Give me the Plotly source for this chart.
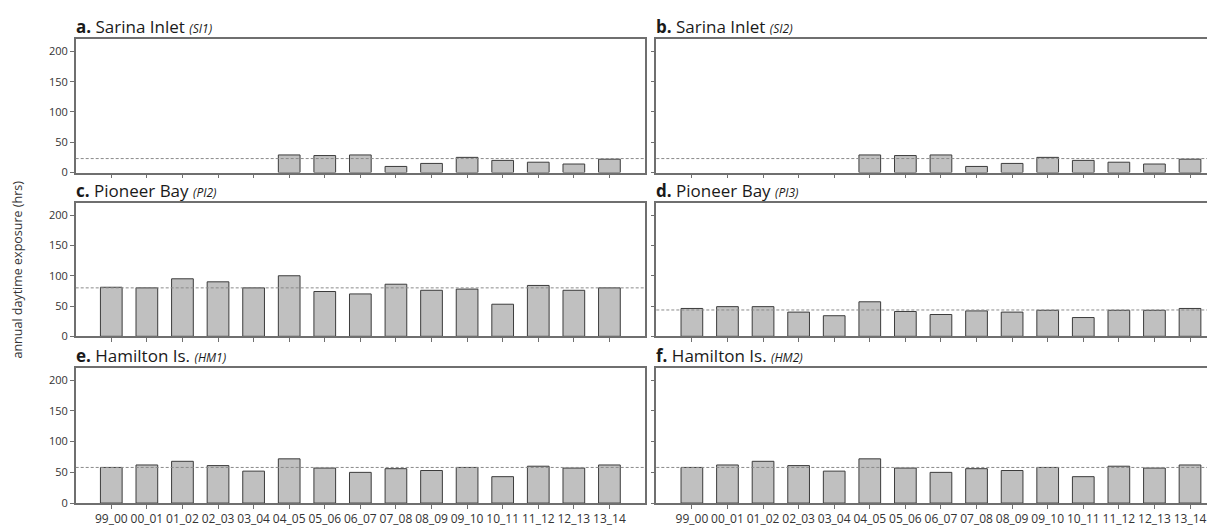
import plotly.graph_objects as go

years = ["99_00", "00_01", "01_02", "02_03", "03_04", "04_05", "05_06", "06_07",
         "07_08", "08_09", "09_10", "10_11", "11_12", "12_13", "13_14"]

si1 = [None, None, None, None, None, 29, 28, 29, 10, 15, 25, 20, 17, 14, 22]
si2 = [None, None, None, None, None, 29, 28, 29, 10, 15, 25, 20, 17, 14, 22]
pi2 = [81, 80, 95, 90, 80, 100, 74, 70, 86, 76, 78, 53, 84, 76, 80]
pi3 = [46, 49, 49, 40, 34, 57, 41, 36, 42, 40, 43, 31, 43, 43, 46]
hm1 = [58, 62, 68, 61, 52, 72, 57, 50, 56, 53, 58, 43, 60, 57, 62]
hm2 = [58, 62, 68, 61, 52, 72, 57, 50, 56, 53, 58, 43, 60, 57, 62]

ref_levels = [23, 23, 80, 43.5, 58, 58]

letters = ["a.", "b.", "c.", "d.", "e.", "f."]
sites = ["Sarina Inlet", "Sarina Inlet", "Pioneer Bay", "Pioneer Bay", "Hamilton Is.", "Hamilton Is."]
codes = ["SI1", "SI2", "PI2", "PI3", "HM1", "HM2"]
series = [si1, si2, pi2, pi3, hm1, hm2]

y_tickvals = [0, 50, 100, 150, 200]
y_label = "annual daytime exposure (hrs)"

W, H = 1215, 531
FONT = "Open Sans"
AX_COLOR = "#6f6f6f"
TXT = "#333333"

# pixel layout of the panels (left, right, top, bottom)
cols = [(67.7, 637.0), (648.3, 1215.0)]
rows = [(31.7, 166.7), (197.7, 332.7), (364.7, 501.7)]
title_y = [19, 185, 352]

fig = go.Figure()
layout = dict(
    width=W, height=H,
    margin=dict(l=0, r=0, t=0, b=0),
    paper_bgcolor="white", plot_bgcolor="white",
    showlegend=False,
    font=dict(family=FONT, color=TXT, size=11),
)
shapes = []
annotations = []

for i in range(6):
    r, c = divmod(i, 2)
    n = i + 1
    xa = "xaxis" if n == 1 else f"xaxis{n}"
    ya = "yaxis" if n == 1 else f"yaxis{n}"
    xr = "x" if n == 1 else f"x{n}"
    yr = "y" if n == 1 else f"y{n}"
    x0, x1 = cols[c]
    t, b = rows[r]
    xr_end = 15 if c == 0 else -1 + (x1 - x0) / ((637.0 - 67.7) / 16)

    fig.add_trace(go.Bar(
        x=years, y=series[i], xaxis=xr, yaxis=yr,
        marker=dict(color="#c0c0c0", line=dict(color="#3c3c3c", width=1)),
        width=0.61,
    ))

    layout[xa] = dict(
        domain=[x0 / W, x1 / W], anchor=yr,
        type="category", categoryorder="array", categoryarray=years,
        range=[-1, xr_end],
        showline=True, linecolor=AX_COLOR, linewidth=1.5, mirror=True,
        ticks="outside", ticklen=4, tickcolor=AX_COLOR, tickwidth=1,
        showticklabels=(r == 2), tickfont=dict(size=12, color=TXT),
        showgrid=False, zeroline=False, fixedrange=True,
    )
    layout[ya] = dict(
        domain=[1 - b / H, 1 - t / H], anchor=xr,
        range=[0, 220], tickvals=y_tickvals,
        showline=True, linecolor=AX_COLOR, linewidth=1.5, mirror=(c == 0),
        ticks="outside", ticklen=4, tickcolor=AX_COLOR, tickwidth=1,
        showticklabels=(c == 0), tickfont=dict(size=11, color=TXT),
        showgrid=False, zeroline=False, fixedrange=True,
    )

    shapes.append(dict(
        type="line", xref=f"{xr} domain", yref=yr,
        x0=0, x1=1, y0=ref_levels[i], y1=ref_levels[i],
        line=dict(color="#8a8a8a", width=1, dash="3px,2px"),
        layer="above",
    ))

    annotations.append(dict(
        xref="paper", yref="paper",
        x=(x0 - 2) / W, y=1 - title_y[r] / H,
        xanchor="left", yanchor="middle", showarrow=False,
        text=f"<b>{letters[i]}</b> {sites[i]} <i><span style='font-size:12px'>({codes[i]})</span></i>",
        font=dict(family=FONT, size=17, color="#1a1a1a"),
    ))

annotations.append(dict(
    xref="paper", yref="paper", x=10 / W, y=1 - 265 / H,
    xanchor="center", yanchor="middle", showarrow=False,
    text=y_label, textangle=-90,
    font=dict(family=FONT, size=12.5, color=TXT),
))

layout["shapes"] = shapes
layout["annotations"] = annotations
fig.update_layout(**layout)

fig.write_html("out.html")
